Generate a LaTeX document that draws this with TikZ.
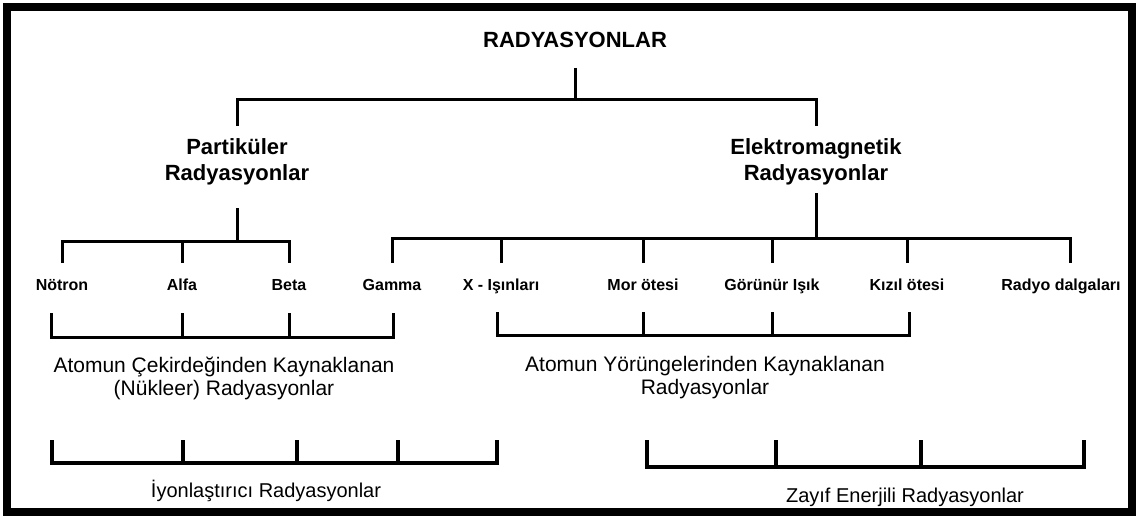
\documentclass[tikz,border=0pt]{standalone}
\usepackage{fontspec}
\setmainfont{Liberation Sans}
\tikzset{
  tree/.style={line width=3pt},
  base/.style={line width=3.6pt},
  head/.style={font=\bfseries\fontsize{22}{26}\selectfont, align=center, inner sep=0pt},
  leaf/.style={font=\bfseries\fontsize{16}{18}\selectfont, inner sep=0pt, text height=12pt, text depth=3.5pt},
  group/.style={font=\fontsize{21}{23}\selectfont, align=center, inner sep=0pt},
}
\begin{document}
\begin{tikzpicture}[x=1pt,y=-1pt]
\useasboundingbox (0,0) rectangle (1138,517);
\draw[line width=8pt] (7,7) rectangle (1132,512);

% top of the tree
\node[head] (root) at (575,40) {RADYASYONLAR};
\node[head] (par) at (237,162) {Partiküler\\Radyasyonlar};
\node[head] (em) at (816,162) {Elektromagnetik\\Radyasyonlar};
\coordinate (tb) at (575,99);
\draw[tree] ([yshift=-20pt]root.south) -- (tb);
\draw[tree] ([yshift=13pt]par.north) |- (tb) -| ([yshift=13pt]em.north);

% radiation types
\foreach \n/\x/\t in {notron/62/Nötron, alfa/182/Alfa, beta/289/Beta, gamma/392/Gamma,
    xray/501/X - Işınları, mor/643/Mor ötesi, gor/772/Görünür Işık,
    kizil/907/Kızıl ötesi, radyo/1061/Radyo dalgaları}
  \node[leaf] (\n) at (\x,286) {\t};

\coordinate (lb) at (237,241);
\draw[tree] ([yshift=-23pt]par.south) -- (lb);
\draw[tree] ([yshift=15pt]notron.north) |- (lb) -| ([yshift=15pt]beta.north);
\draw[tree] ([yshift=15pt]alfa.north) -- (alfa |- lb);

\coordinate (eb) at (816,238);
\draw[tree] ([yshift=-8pt]em.south) -- (eb);
\draw[tree] ([yshift=15pt]gamma.north) |- (eb) -| ([xshift=9pt,yshift=15pt]radyo.north);
\foreach \n in {xray,mor,gor,kizil}
  \draw[tree] ([yshift=15pt]\n.north) -- (\n |- eb);

% nuclear / orbital origin
\coordinate (nucL) at (51,337);
\coordinate (nucR) at (393,337);
\draw[tree] (nucL) ++(0,-24) |- (nucR) -- ++(0,-24);
\foreach \n in {alfa,beta}
  \draw[tree] (\n |- nucL) -- ++(0,-24);
\node[group] (cek) at (224,378) {Atomun Çekirdeğinden Kaynaklanan\\(Nükleer) Radyasyonlar};

\coordinate (orbL) at (497,335);
\coordinate (orbR) at (909,335);
\draw[tree] (orbL) ++(0,-23) |- (orbR) -- ++(0,-23);
\foreach \n in {mor,gor}
  \draw[tree] (\n |- orbL) -- ++(0,-23);
\node[group] (yor) at (705,378) {Atomun Yörüngelerinden Kaynaklanan\\Radyasyonlar};

% ionizing / weak energy
\coordinate (ionL) at (52,463);
\coordinate (ionR) at (497,463);
\draw[base] (ionL) ++(0,-23) |- (ionR) -- ++(0,-23);
\foreach \x in {183,297,398}
  \draw[base] (\x,463) -- ++(0,-23);
\node[group, font=\fontsize{20}{23}\selectfont] (iyon) at (266,491) {İyonlaştırıcı Radyasyonlar};

\coordinate (weakL) at (647,467);
\coordinate (weakR) at (1084,467);
\draw[base] (weakL) ++(0,-27) |- (weakR) -- ++(0,-27);
\foreach \x in {776,921}
  \draw[base] (\x,467) -- ++(0,-27);
\node[group, font=\fontsize{20}{23}\selectfont] (zayif) at (905,497) {Zayıf Enerjili Radyasyonlar};
\end{tikzpicture}
\end{document}
